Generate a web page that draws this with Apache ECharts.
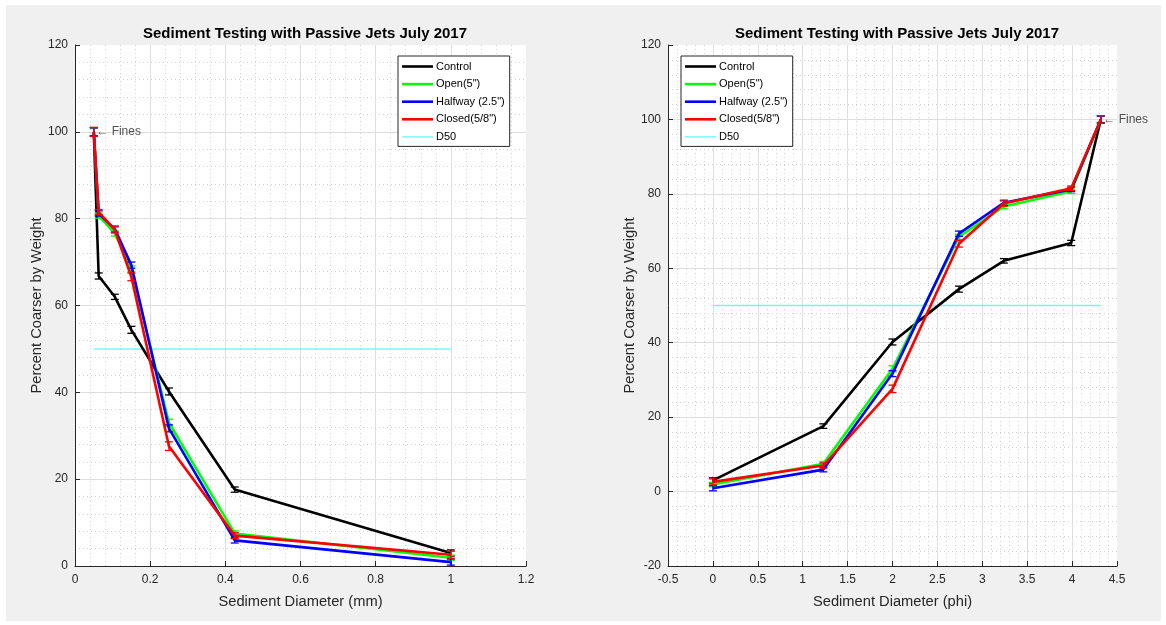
<!DOCTYPE html>
<html>
<head>
<meta charset="utf-8">
<script src="https://cdn.jsdelivr.net/npm/echarts@6/dist/echarts.min.js"></script>
<style>
  html, body { margin: 0; padding: 0; background: #ffffff; }
  #panel { position: absolute; left: 6px; top: 5px; width: 1155px; height: 616px; background: #f0f0f0; }
  #chart { position: absolute; left: 0; top: 0; width: 1166px; height: 625px; }
</style>
</head>
<body>
<div id="panel"></div>
<div id="chart"></div>
<script>
// Sieve openings, coarsest first (mm and phi units)
const sieveMm  = [1.0, 0.425, 0.25, 0.15, 0.106, 0.063, 0.05];
const sievePhi = [0, 1.23, 2, 2.74, 3.24, 3.99, 4.32];

// Percent coarser by weight for each jet configuration, with error half-widths
const control    = [3.0, 17.6, 40.2, 54.4, 62.0, 66.8, 100];
const controlErr = [0.7, 0.6, 0.8, 0.8, 0.6, 0.7, 1.0];
const open       = [1.9, 7.5, 33.0, 68.4, 76.6, 80.7, 100];
const openErr    = [0.6, 0.6, 0.8, 0.7, 0.6, 0.6, 0.9];
const halfway    = [0.9, 5.9, 31.7, 69.3, 77.6, 81.2, 100];
const halfwayErr = [0.7, 0.6, 0.8, 0.7, 0.7, 0.6, 0.9];
const closed     = [2.6, 7.0, 27.6, 66.6, 77.4, 81.5, 100];
const closedErr  = [0.8, 0.7, 1.0, 0.9, 0.7, 0.6, 1.0];

const d50Value = 50;
const seriesNames = ['Control', 'Open(5")', 'Halfway (2.5")', 'Closed(5/8")', 'D50'];
const seriesColors = ['#000000', '#00ff00', '#0000ff', '#ff0000', '#70f8f8'];
const testValues = [control, open, halfway, closed];
const testErrors = [controlErr, openErr, halfwayErr, closedErr];

const titleText = 'Sediment Testing with Passive Jets July 2017';
const yName = 'Percent Coarser by Weight';
const xNames = ['Sediment Diameter (mm)', 'Sediment Diameter (phi)'];

const FONT = '"Liberation Sans", Arial, Helvetica, sans-serif';
const INK = '#262626';

// Legend swatches: plain line segments (thick for data, thin for D50)
const thickSwatch = 'path://M0,0 L31,0 L31,2.6 L0,2.6 Z';
const thinSwatch  = 'path://M0,0 L31,0 L31,1.4 L0,1.4 Z';

function errorBarRenderer(color) {
  return function (params, api) {
    const x = api.value(0);
    const lo = api.coord([x, api.value(1)]);
    const hi = api.coord([x, api.value(2)]);
    const w = 4;
    const style = { stroke: color, lineWidth: 1.3 };
    return {
      type: 'group',
      children: [
        { type: 'line', shape: { x1: lo[0], y1: lo[1], x2: hi[0], y2: hi[1] }, style: style },
        { type: 'line', shape: { x1: lo[0] - w, y1: lo[1], x2: lo[0] + w, y2: lo[1] }, style: style },
        { type: 'line', shape: { x1: hi[0] - w, y1: hi[1], x2: hi[0] + w, y2: hi[1] }, style: style }
      ]
    };
  };
}

function valueAxis(gridIndex, min, max, interval, name, isX) {
  return {
    type: 'value', gridIndex: gridIndex, min: min, max: max, interval: interval,
    name: name, nameLocation: 'middle', nameGap: isX ? 28 : 30,
    nameTextStyle: { fontFamily: FONT, fontSize: 14.7, color: INK },
    axisLine: { show: true, onZero: false, lineStyle: { color: INK, width: 1 } },
    axisTick: { show: true, inside: true, length: 5, lineStyle: { color: INK } },
    axisLabel: { fontFamily: FONT, fontSize: 12, color: INK, margin: isX ? 8 : 7 },
    splitLine: { show: true, showMaxLine: false, lineStyle: { color: '#dedede', width: 1 } },
    minorTick: { show: false, splitNumber: 5 },
    minorSplitLine: { show: true, lineStyle: { color: '#d2d2d2', width: 1, type: [1, 3] } }
  };
}

const xData = [sieveMm, sievePhi];
const series = [];
for (let g = 0; g < 2; g++) {
  const xs = xData[g];
  for (let s = 0; s < testValues.length; s++) {
    const vals = testValues[s];
    const errs = testErrors[s];
    series.push({
      name: seriesNames[s], type: 'line', xAxisIndex: g, yAxisIndex: g,
      data: xs.map((x, i) => [x, vals[i]]),
      symbol: 'none', silent: true, animation: false, z: 3 + s,
      lineStyle: { color: seriesColors[s], width: 2.6 },
      itemStyle: { color: seriesColors[s] }
    });
    series.push({
      type: 'custom', xAxisIndex: g, yAxisIndex: g, silent: true, animation: false, z: 3 + s,
      data: xs.map((x, i) => [x, vals[i] - errs[i], vals[i] + errs[i]]),
      encode: { x: 0, y: [1, 2] },
      renderItem: errorBarRenderer(seriesColors[s])
    });
  }
  // D50 reference line across the tested sieve range
  const xFirst = xs[0], xLast = xs[xs.length - 1];
  series.push({
    name: 'D50', type: 'line', xAxisIndex: g, yAxisIndex: g,
    data: [[xFirst, d50Value], [xLast, d50Value]],
    symbol: 'none', silent: true, animation: false, z: 2,
    lineStyle: { color: seriesColors[4], width: 1.5 },
    itemStyle: { color: seriesColors[4] }
  });
  // "Fines" annotation at the pan fraction
  series.push({
    type: 'scatter', xAxisIndex: g, yAxisIndex: g, silent: true, animation: false, z: 10,
    data: [[xLast, 100]], symbolSize: 1,
    itemStyle: { color: 'rgba(0,0,0,0)' },
    label: { show: true, position: 'right', distance: 2, formatter: '\u2190 Fines',
             fontFamily: FONT, fontSize: 12, color: INK }
  });
}

function legendAt(left) {
  return {
    show: true, orient: 'vertical', left: left, top: 56,
    data: seriesNames.map((n, i) => ({ name: n, icon: i === 4 ? thinSwatch : thickSwatch })),
    backgroundColor: '#ffffff', borderColor: INK, borderWidth: 1, borderRadius: 0,
    padding: [5, 5, 4, 4], itemGap: 6.6, itemWidth: 31, itemHeight: 10,
    selectedMode: false,
    textStyle: { fontFamily: FONT, fontSize: 11, color: '#000000', padding: [0, 0, 0, -2] }
  };
}

const titleStyle = { fontFamily: FONT, fontSize: 15, fontWeight: 'bold', color: '#000000' };

const option = {
  animation: false,
  title: [
    { text: titleText, left: 300, top: 21, textAlign: 'center', textStyle: titleStyle },
    { text: titleText, left: 892, top: 21, textAlign: 'center', textStyle: titleStyle }
  ],
  legend: [legendAt(398), legendAt(681)],
  grid: [
    { left: 75, top: 45, width: 451, height: 521, show: true, backgroundColor: '#ffffff', borderWidth: 0 },
    { left: 668, top: 45, width: 449, height: 521, show: true, backgroundColor: '#ffffff', borderWidth: 0 }
  ],
  xAxis: [
    valueAxis(0, 0, 1.2, 0.2, xNames[0], true),
    valueAxis(1, -0.5, 4.5, 0.5, xNames[1], true)
  ],
  yAxis: [
    valueAxis(0, 0, 120, 20, yName, false),
    valueAxis(1, -20, 120, 20, yName, false)
  ],
  series: series
};

const chart = echarts.init(document.getElementById('chart'), null, { renderer: 'canvas' });
chart.setOption(option);
</script>
</body>
</html>
